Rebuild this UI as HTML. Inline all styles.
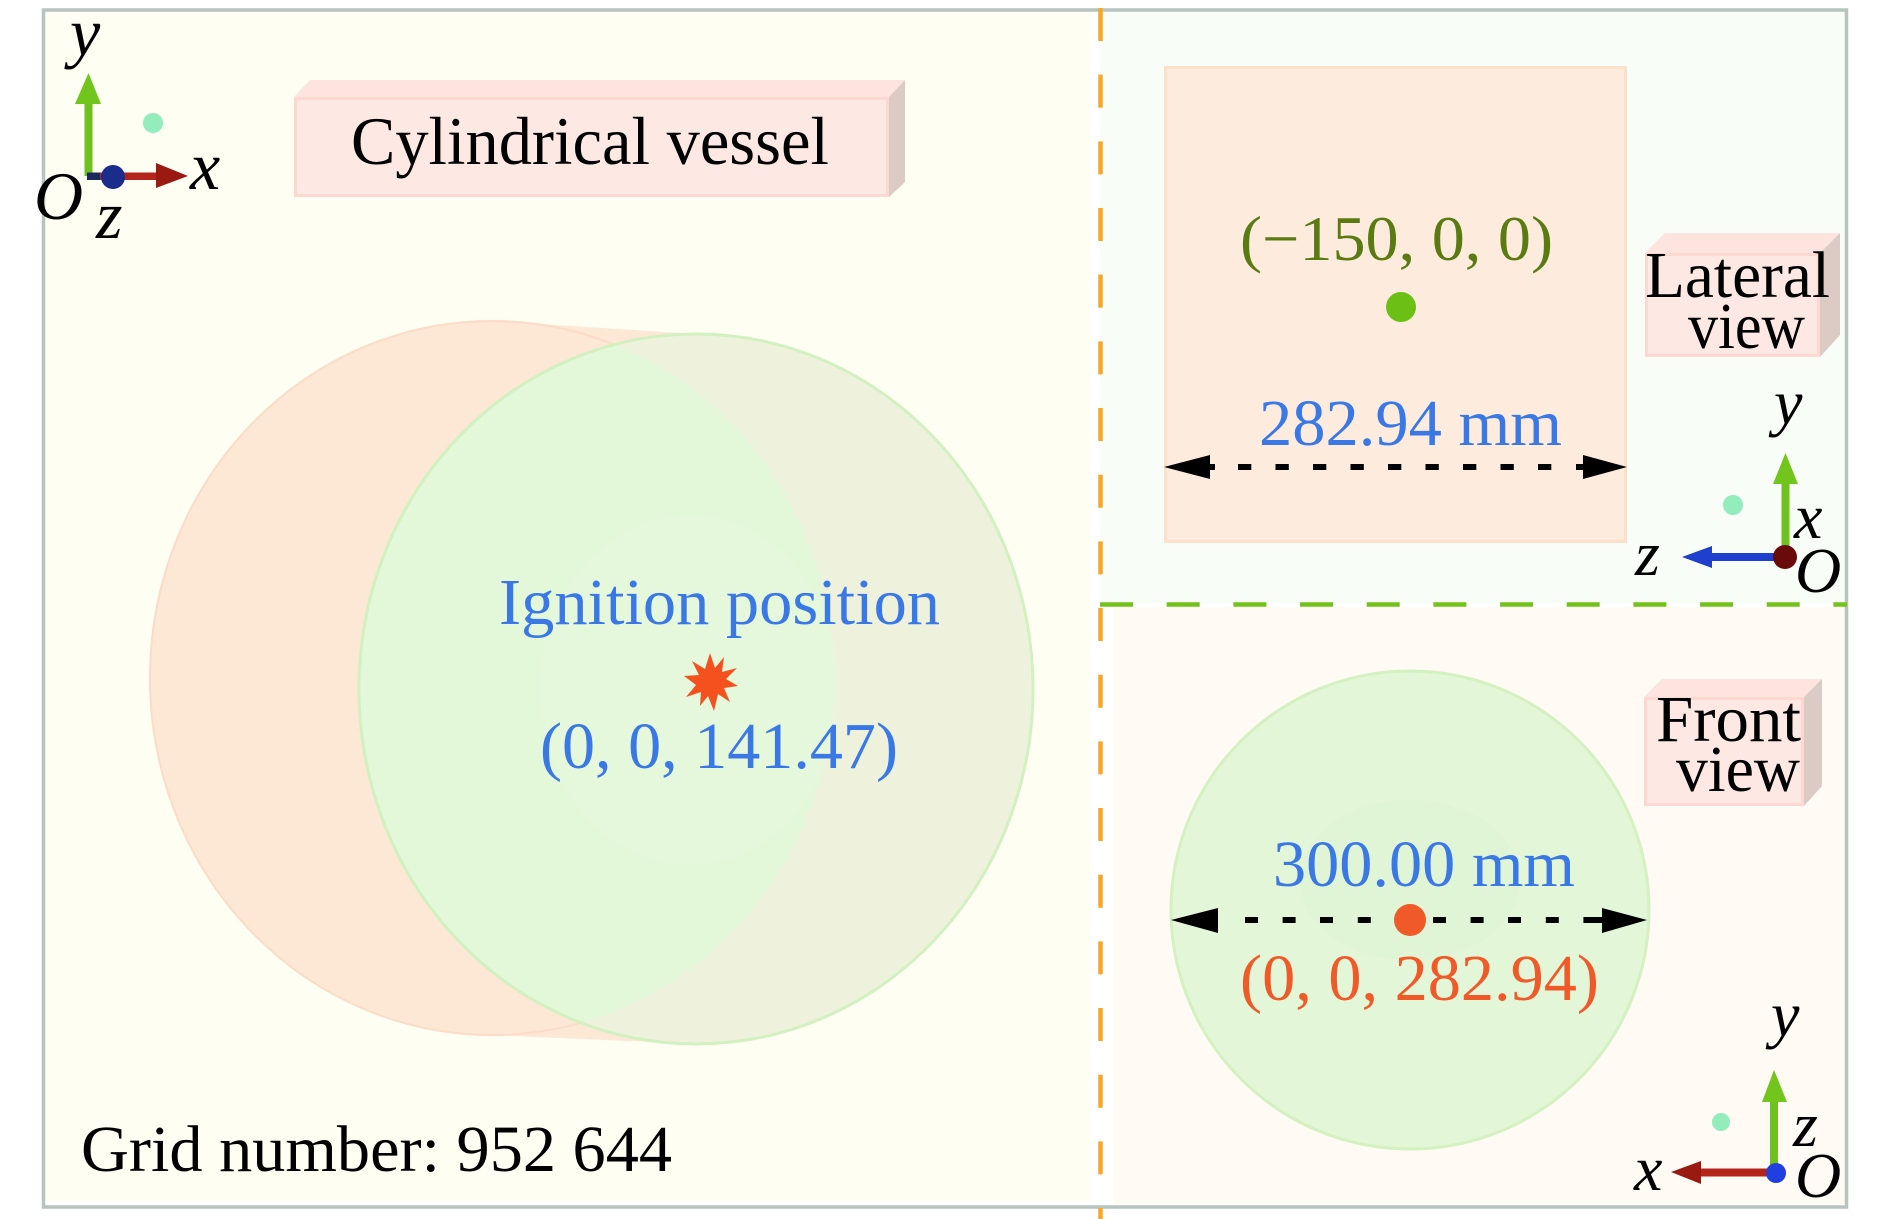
<!DOCTYPE html>
<html>
<head>
<meta charset="utf-8">
<style>
  html, body { margin: 0; padding: 0; background: #ffffff; }
  body { width: 1890px; height: 1219px; overflow: hidden; }
  svg { display: block; }
  text { font-family: "Liberation Serif", "Times New Roman", serif; }
  .ax { font-style: italic; fill: #000; }
</style>
</head>
<body>
<svg width="1890" height="1219" viewBox="0 0 1890 1219" xmlns="http://www.w3.org/2000/svg">
  <defs>
    <clipPath id="greenClip">
      <ellipse cx="696" cy="689" rx="337" ry="355"/>
    </clipPath>
  </defs>

  <!-- panel backgrounds -->
  <rect x="0" y="0" width="1890" height="1219" fill="#ffffff"/>
  <rect x="43" y="9" width="1048" height="1192" fill="#fefef2"/>
  <rect x="1100" y="9" width="746" height="594" fill="#f9fdf7"/>
  <rect x="1113" y="607" width="733" height="597" fill="#fffaf3"/>

  <!-- outer border -->
  <rect x="43.5" y="10" width="1803" height="1197" fill="none" stroke="#b6c3bf" stroke-width="3.5"/>

  <!-- dashed separators -->
  <line x1="1100.5" y1="8" x2="1100.5" y2="1219" stroke="#f8a623" stroke-width="4.5" stroke-dasharray="33 33.67"/>
  <line x1="1100" y1="604.5" x2="1847" y2="604.5" stroke="#72c21a" stroke-width="4.5" stroke-dasharray="33 33.67"/>

  <!-- ===== LEFT PANEL ===== -->
  <rect x="84.5" y="103" width="8" height="73" fill="#6fc11f"/>
  <polygon points="88.5,73 75,104 101,104" fill="#72c51c"/>
  <rect x="87" y="172.5" width="16" height="7.5" fill="#1a2a5a"/>
  <rect x="100" y="172.5" width="58" height="7.5" fill="#b3241a"/>
  <polygon points="156,163 188,176 156,188" fill="#9a1a12"/>
  <circle cx="113" cy="177" r="12" fill="#1a2c8c"/>
  <circle cx="153" cy="123" r="10" fill="#92ecbc"/>
  <text class="ax" x="70" y="55" font-size="68">y</text>
  <text class="ax" x="190" y="189" font-size="68">x</text>
  <text class="ax" x="34" y="219" font-size="68">O</text>
  <text class="ax" x="96" y="238" font-size="68">z</text>

  <!-- Cylindrical vessel box -->
  <polygon points="294,97 310,80 905,80 889,97" fill="#fde4df"/>
  <polygon points="889,97 905,80 905,182 889,197" fill="#dccbc4"/>
  <rect x="295.5" y="98.5" width="592" height="97" fill="#fde8e3" stroke="#fcd8d0" stroke-width="3"/>
  <text x="351" y="164" font-size="68" fill="#000" textLength="478" lengthAdjust="spacingAndGlyphs">Cylindrical vessel</text>

  <!-- cylinder -->
  <path d="M492,321 L696,334 L696,1044 L492,1035 Z" fill="#fde7d5"/>
  <ellipse cx="492" cy="678" rx="342" ry="357" fill="#fde7d5" stroke="#fcdcc6" stroke-width="2"/>
  <ellipse cx="696" cy="689" rx="337" ry="355" fill="#eef2dd"/>
  <g clip-path="url(#greenClip)">
    <ellipse cx="492" cy="678" rx="342" ry="357" fill="#e3f7d9"/>
    <ellipse cx="690" cy="690" rx="150" ry="175" fill="#e8f9e0" opacity="0.35"/>
  </g>
  <ellipse cx="696" cy="689" rx="337" ry="355" fill="none" stroke="#d2f1c0" stroke-width="3"/>

  <!-- ignition -->
  <text x="499" y="624" font-size="66" fill="#3a78e6" textLength="441" lengthAdjust="spacingAndGlyphs">Ignition position</text>
  <polygon fill="#f4511e" points="
    710,653 715,668 724,657 722,672 737,668 726,679 738,686 724,688 730,702 718,694 714,711 708,696 700,706 701,692 686,697 696,685 684,676 699,675 692,661 705,669"/>
  <text x="540" y="768" font-size="66" fill="#3a78e6" textLength="358" lengthAdjust="spacingAndGlyphs">(0, 0, 141.47)</text>

  <text x="81" y="1171" font-size="66" fill="#000" textLength="591" lengthAdjust="spacingAndGlyphs">Grid number: 952 644</text>

  <!-- ===== TOP-RIGHT: Lateral view ===== -->
  <rect x="1165.5" y="67.5" width="460" height="474" fill="#fdecdd" stroke="#fde0ca" stroke-width="3"/>
  <text x="1240" y="260" font-size="64" fill="#5a7a12" textLength="313" lengthAdjust="spacingAndGlyphs">(−150, 0, 0)</text>
  <circle cx="1401" cy="307" r="15" fill="#6cbf14"/>
  <text x="1259" y="445" font-size="66" fill="#3a78e6" textLength="303" lengthAdjust="spacingAndGlyphs">282.94 mm</text>
  <polygon points="1164,467 1210,455 1210,479" fill="#000"/>
  <polygon points="1627,467 1583,455 1583,479" fill="#000"/>
  <g fill="#000">
    <rect x="1207" y="464" width="8" height="6"/>
    <rect x="1238" y="464" width="13.3" height="6"/>
    <rect x="1275.5" y="464" width="13.3" height="6"/>
    <rect x="1313" y="464" width="13.3" height="6"/>
    <rect x="1350.5" y="464" width="13.3" height="6"/>
    <rect x="1388" y="464" width="13.3" height="6"/>
    <rect x="1425.5" y="464" width="13.3" height="6"/>
    <rect x="1463" y="464" width="13.3" height="6"/>
    <rect x="1500.5" y="464" width="13.3" height="6"/>
    <rect x="1538" y="464" width="13.3" height="6"/>
    <rect x="1576" y="464" width="8" height="6"/>
  </g>

  <!-- Lateral view box -->
  <polygon points="1645,253 1665,233 1840,233 1820,253" fill="#fde4df"/>
  <polygon points="1820,253 1840,233 1840,335 1820,357" fill="#dccbc4"/>
  <rect x="1646.5" y="254.5" width="172" height="101" fill="#fde8e3" stroke="#fcd8d0" stroke-width="3"/>
  <text x="1645" y="297" font-size="66" fill="#000" textLength="185" lengthAdjust="spacingAndGlyphs">Lateral</text>
  <text x="1688" y="348" font-size="66" fill="#000" textLength="117" lengthAdjust="spacingAndGlyphs">view</text>

  <!-- lateral triad -->
  <rect x="1781.5" y="482" width="8" height="75" fill="#6fc11f"/>
  <polygon points="1785.5,453 1773,484 1798,484" fill="#72c51c"/>
  <rect x="1710" y="553" width="75" height="8" fill="#1f3fcf"/>
  <polygon points="1682,557 1712,546 1712,568" fill="#1f3fcf"/>
  <circle cx="1785" cy="557" r="12" fill="#6b0a0a"/>
  <circle cx="1733" cy="505" r="10" fill="#92ecbc"/>
  <text class="ax" x="1774" y="424" font-size="64">y</text>
  <text class="ax" x="1794" y="538" font-size="64">x</text>
  <text class="ax" x="1635" y="575" font-size="64">z</text>
  <text class="ax" x="1795" y="592" font-size="64">O</text>

  <!-- ===== BOTTOM-RIGHT: Front view ===== -->
  <circle cx="1410" cy="910" r="239" fill="#e3f6d7" stroke="#d3f1c1" stroke-width="3"/>
  <ellipse cx="1410" cy="880" rx="110" ry="80" fill="#dcf3cf" opacity="0.3"/>

  <!-- Front view box -->
  <polygon points="1644,697 1662,679 1822,679 1804,697" fill="#fde4df"/>
  <polygon points="1804,697 1822,679 1822,786 1804,806" fill="#dccbc4"/>
  <rect x="1645.5" y="698.5" width="157" height="106" fill="#fde8e3" stroke="#fcd8d0" stroke-width="3"/>
  <text x="1656" y="741" font-size="66" fill="#000" textLength="145" lengthAdjust="spacingAndGlyphs">Front</text>
  <text x="1676" y="791" font-size="66" fill="#000" textLength="124" lengthAdjust="spacingAndGlyphs">view</text>

  <text x="1273" y="886" font-size="66" fill="#3a78e6" textLength="302" lengthAdjust="spacingAndGlyphs">300.00 mm</text>
  <polygon points="1171,920 1218,908 1218,933" fill="#000"/>
  <polygon points="1647,920 1602,908 1602,933" fill="#000"/>
  <g fill="#000">
    <rect x="1245" y="917" width="13" height="6"/>
    <rect x="1282.6" y="917" width="13" height="6"/>
    <rect x="1320" y="917" width="13" height="6"/>
    <rect x="1357.8" y="917" width="13" height="6"/>
    <rect x="1433" y="917" width="13" height="6"/>
    <rect x="1470.6" y="917" width="13" height="6"/>
    <rect x="1508" y="917" width="13" height="6"/>
    <rect x="1545.8" y="917" width="13" height="6"/>
    <rect x="1583.4" y="917" width="19" height="6"/>
  </g>
  <circle cx="1410" cy="920" r="16" fill="#f05a28"/>
  <text x="1240" y="1000" font-size="66" fill="#f05a28" textLength="359" lengthAdjust="spacingAndGlyphs">(0, 0, 282.94)</text>

  <!-- front triad -->
  <rect x="1770" y="1100" width="8" height="70" fill="#6fc11f"/>
  <polygon points="1774,1070 1762,1102 1787,1102" fill="#72c51c"/>
  <rect x="1698" y="1168.5" width="77" height="8" fill="#b3241a"/>
  <polygon points="1671,1172 1701,1161 1701,1184" fill="#9a1a12"/>
  <circle cx="1776" cy="1173" r="10" fill="#1f3fe0"/>
  <circle cx="1721" cy="1122" r="9" fill="#92ecbc"/>
  <text class="ax" x="1771" y="1036" font-size="64">y</text>
  <text class="ax" x="1793" y="1146" font-size="64">z</text>
  <text class="ax" x="1634" y="1190" font-size="64">x</text>
  <text class="ax" x="1795" y="1197" font-size="64">O</text>
</svg>
</body>
</html>
